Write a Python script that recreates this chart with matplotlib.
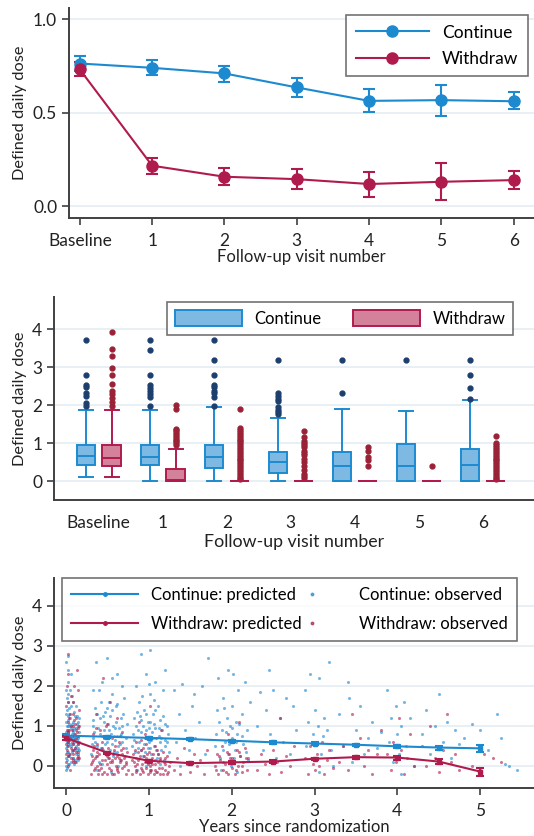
import numpy as np
import matplotlib
matplotlib.use("Agg")
import matplotlib.pyplot as plt
from matplotlib.patches import Patch
from matplotlib.lines import Line2D
from matplotlib.legend_handler import HandlerLine2D

plt.rcParams['font.family'] = ['Lato', 'DejaVu Sans']

BLUE = '#1d8ad0'
RED = '#b01b4e'
BLUE_FACE = '#7db9e2'
RED_FACE = '#d4819b'
BLUE_OUT = '#1d3f6e'
RED_OUT = '#9a2236'
SPINE = '#404040'
GRID = '#e4eef3'

# ---- panel 1: mean DDD by visit ----
visits = ['Baseline', '1', '2', '3', '4', '5', '6']
cont_mean = [0.763, 0.740, 0.710, 0.635, 0.563, 0.567, 0.561]
cont_lo = [0.724, 0.700, 0.665, 0.586, 0.504, 0.483, 0.517]
cont_hi = [0.804, 0.780, 0.750, 0.685, 0.624, 0.650, 0.608]
wd_mean = [0.731, 0.216, 0.157, 0.144, 0.118, 0.130, 0.139]
wd_lo = [0.695, 0.173, 0.112, 0.093, 0.050, 0.032, 0.091]
wd_hi = [0.770, 0.258, 0.205, 0.198, 0.184, 0.228, 0.189]

# ---- panel 2: box plot stats per visit (med, q1, q3, whislo, whishi, fliers) ----
cont_box = [
    (0.67, 0.43, 0.97, 0.11, 1.89, [1.98, 2.07, 2.25, 2.32, 2.47, 2.53, 2.81, 3.73]),
    (0.63, 0.43, 0.97, 0.0, 1.89, [1.98, 2.23, 2.30, 2.37, 2.46, 2.53, 2.81, 3.46, 3.73]),
    (0.63, 0.34, 0.97, 0.0, 1.95, [1.98, 2.23, 2.32, 2.39, 2.47, 2.53, 2.81, 3.20, 3.73]),
    (0.50, 0.22, 0.78, 0.0, 1.68, [1.77, 1.83, 1.88, 1.95, 2.11, 2.18, 2.25, 2.32, 3.19]),
    (0.40, 0.0, 0.78, 0.0, 1.91, [2.33, 3.19]),
    (0.40, 0.0, 0.98, 0.0, 1.86, [3.19]),
    (0.44, 0.0, 0.84, 0.0, 2.14, [2.18, 2.46, 2.80, 3.19]),
]
wd_box = [
    (0.62, 0.41, 0.97, 0.11, 1.89, [1.98, 2.08, 2.20, 2.30, 2.39, 2.57, 2.81, 2.97, 3.31, 3.47, 3.93]),
    (0.03, 0.0, 0.32, 0.0, 0.84, [0.95, 1.0, 1.05, 1.1, 1.15, 1.2, 1.25, 1.3, 1.35, 1.39, 1.90, 2.0]),
    (0.0, 0.0, 0.0, 0.0, 0.0, [0.05, 0.1, 0.15, 0.2, 0.25, 0.3, 0.35, 0.4, 0.45, 0.5, 0.55, 0.6, 0.65,
                               0.7, 0.75, 0.8, 0.85, 0.9, 0.95, 1.0, 1.05, 1.1, 1.15, 1.2, 1.25, 1.3,
                               1.35, 1.4, 1.9]),
    (0.0, 0.0, 0.0, 0.0, 0.0, [0.1, 0.15, 0.2, 0.3, 0.4, 0.5, 0.6, 0.7, 0.75, 0.8, 0.9, 0.95, 1.0,
                               1.07, 1.18, 1.33]),
    (0.0, 0.0, 0.0, 0.0, 0.0, [0.40, 0.56, 0.65, 0.81, 0.91]),
    (0.0, 0.0, 0.0, 0.0, 0.0, [0.40]),
    (0.0, 0.0, 0.0, 0.0, 0.0, [0.05, 0.1, 0.15, 0.2, 0.25, 0.3, 0.35, 0.4, 0.45, 0.5, 0.55, 0.6, 0.65,
                               0.7, 0.75, 0.8, 0.85, 0.9, 0.95, 1.0, 1.19]),
]

# ---- panel 3: predicted trajectories + observed points ----
years = [0.0, 0.5, 1.0, 1.5, 2.0, 2.5, 3.0, 3.5, 4.0, 4.5, 5.0]
cont_pred = [0.756, 0.73, 0.70, 0.67, 0.63, 0.59, 0.56, 0.53, 0.49, 0.46, 0.44]
cont_pred_err = [0.03, 0.03, 0.03, 0.03, 0.03, 0.03, 0.03, 0.03, 0.04, 0.05, 0.08]
wd_pred = [0.70, 0.33, 0.13, 0.07, 0.09, 0.11, 0.18, 0.22, 0.21, 0.11, -0.14]
wd_pred_err = [0.04, 0.03, 0.03, 0.03, 0.03, 0.03, 0.03, 0.04, 0.05, 0.06, 0.10]

cont_obs = [
    (0.00, 0.2), (0.01, 0.5), (0.02, 0.9), (0.00, 1.3), (0.01, 1.7), (0.02, 2.1), (0.00, 2.6), (0.03, 2.75),
    (0.01, -0.05), (0.02, 0.05), (0.03, 0.35), (0.04, 0.65), (0.05, 1.0), (0.03, 1.15), (0.04, 1.45),
    (0.05, 1.9), (0.06, 2.3), (0.07, 0.8), (0.08, 0.4), (0.09, 1.1), (0.10, 0.6), (0.11, 0.15), (0.12, 0.95),
    (0.13, 1.25), (0.14, 0.3), (0.15, 0.7), (0.06, 0.1), (0.08, 1.6), (0.10, 1.35), (0.12, 0.5), (0.14, 1.0),
    (0.02, 0.75), (0.04, 0.25), (0.07, 1.75), (0.09, 0.85), (0.11, 0.45), (0.13, 0.65), (0.15, 0.2),
    (0.01, 1.0), (0.05, 0.55), (0.00, 0.85), (0.03, 1.6), (0.06, 0.95), (0.16, 1.2), (0.16, 0.4),
    (0.00, 0.45), (0.01, 0.15), (0.02, 1.25), (0.03, 0.85), (0.04, 0.05), (0.05, 0.75), (0.06, 1.5),
    (0.07, 0.35), (0.08, 0.7), (0.09, 0.2), (0.10, 0.95), (0.11, 1.25), (0.12, 0.1), (0.13, 0.4),
    (0.14, 0.75), (0.15, 1.1), (0.00, 1.9), (0.02, 2.4), (0.01, 0.6), (0.04, 1.05), (0.06, 0.5),
    (0.08, 0.9), (0.10, 0.05), (0.12, 1.5), (0.14, 0.55),
    (0.00, 0.0), (0.00, 0.65), (0.00, 1.1), (0.01, 0.35), (0.01, 1.4), (0.02, 0.55), (0.02, 0.25),
    (0.03, 1.0), (0.03, 0.6), (0.04, 1.3), (0.05, 0.3), (0.05, 1.2), (0.06, 0.7), (0.07, 1.05),
    (0.08, 0.2), (0.09, 0.55), (0.10, 0.8), (0.11, 0.7), (0.12, 0.3), (0.13, 1.05), (0.14, 0.15),
    (0.15, 0.45), (0.16, 0.85), (0.00, -0.1), (0.02, 1.8),
    (0.30, 0.3), (0.32, 1.0), (0.33, 1.9), (0.35, 0.6), (0.36, 2.6), (0.38, 1.3), (0.40, 0.1), (0.41, 0.8),
    (0.42, 1.6), (0.44, 2.1), (0.45, 0.4), (0.46, 1.1), (0.48, 0.7), (0.49, 1.45), (0.50, 2.7), (0.51, 0.2),
    (0.52, 0.9), (0.53, 1.25), (0.55, 0.55), (0.56, 1.8), (0.57, 1.0), (0.58, 0.35), (0.60, 1.5),
    (0.61, 0.75), (0.62, 2.3), (0.64, 0.95), (0.65, 0.15), (0.66, 1.2), (0.68, 0.6), (0.70, 1.7),
    (0.72, 0.45), (0.74, 1.05), (0.37, -0.1), (0.43, 0.05), (0.54, -0.15), (0.63, 0.0), (0.47, 1.35),
    (0.59, 0.65), (0.34, 0.85), (0.67, 2.0),
    (0.31, 0.55), (0.33, 1.15), (0.36, 0.25), (0.39, 0.95), (0.42, 0.45), (0.45, 1.25), (0.48, 0.3),
    (0.51, 1.05), (0.54, 0.8), (0.57, 0.25), (0.60, 1.1), (0.63, 0.5), (0.66, 0.8), (0.69, 1.3),
    (0.72, 0.7), (0.40, 1.9), (0.55, 2.2), (0.35, 1.45), (0.50, 0.6), (0.62, 1.55),
    (0.32, 0.7), (0.38, 0.5), (0.41, 1.2), (0.44, 0.75), (0.47, 0.55), (0.53, 0.4), (0.56, 1.4),
    (0.59, 0.95), (0.61, 0.35), (0.65, 0.55), (0.68, 1.0), (0.71, 0.25), (0.46, 0.9), (0.52, 1.6),
    (0.58, 0.75),
    (0.80, 0.5), (0.82, 1.2), (0.84, 2.0), (0.85, 0.2), (0.87, 0.9), (0.88, 1.6), (0.90, 2.8), (0.91, 0.4),
    (0.93, 1.0), (0.94, 1.4), (0.95, 0.7), (0.96, 2.3), (0.98, 0.1), (0.99, 1.1), (1.00, 0.6), (1.01, 1.8),
    (1.02, 2.9), (1.03, 0.3), (1.04, 0.85), (1.05, 1.3), (1.06, 0.5), (1.07, 2.1), (1.08, 0.95),
    (1.10, 0.2), (1.11, 1.5), (1.12, 0.75), (1.14, 1.15), (1.15, 0.4), (1.17, 1.9), (1.19, 0.65),
    (1.20, 2.4), (1.22, 1.0), (1.24, 0.35), (0.86, -0.1), (0.97, 0.0), (1.09, -0.15), (1.13, 0.05),
    (0.89, 1.25), (1.01, 0.45), (1.16, 0.9),
    (0.81, 0.8), (0.83, 0.35), (0.86, 1.35), (0.88, 0.6), (0.91, 1.15), (0.93, 0.25), (0.96, 0.9),
    (0.99, 0.45), (1.02, 1.1), (1.05, 0.7), (1.08, 1.4), (1.11, 0.3), (1.14, 0.6), (1.17, 1.25),
    (1.20, 0.5), (1.23, 0.8), (0.92, 1.75), (1.06, 1.65), (1.18, 0.15), (1.00, 2.05),
    (0.82, 0.65), (0.85, 1.0), (0.87, 0.45), (0.90, 0.85), (0.94, 0.55), (0.97, 1.3), (1.00, 0.95),
    (1.03, 0.65), (1.06, 1.05), (1.09, 0.4), (1.12, 0.95), (1.15, 0.7), (1.19, 1.05), (1.22, 0.6),
    (0.95, 0.35),
    (1.30, 1.9), (1.33, 0.6), (1.36, 1.3), (1.40, 2.05), (1.44, 0.9), (1.48, 0.4), (1.52, 1.5),
    (1.56, 0.7), (1.60, 1.1), (1.64, 2.0), (1.68, 0.3), (1.72, 2.7), (1.38, 0.0), (1.55, 1.8),
    (1.80, 0.5), (1.82, 1.4), (1.84, 2.2), (1.86, 0.2), (1.88, 0.9), (1.90, 1.7), (1.92, 0.6), (1.94, 1.2),
    (1.95, 2.4), (1.96, 0.3), (1.98, 1.0), (2.00, 0.7), (2.01, 1.5), (2.02, 2.3), (2.04, 0.4), (2.05, 1.1),
    (2.06, 0.8), (2.08, 1.9), (2.10, 0.25), (2.12, 1.3), (2.14, 0.55), (2.16, 2.1), (2.18, 0.9),
    (2.20, 0.15), (1.87, -0.1), (1.99, 0.0), (2.07, -0.15), (2.22, 1.6),
    (1.81, 0.8), (1.85, 1.1), (1.89, 0.4), (1.93, 0.85), (1.97, 0.55), (2.01, 0.95), (2.05, 0.6),
    (2.09, 1.05), (2.13, 0.75), (2.17, 0.35), (1.91, 1.45), (2.03, 0.2),
    (2.30, 1.0), (2.34, 1.85), (2.38, 0.4), (2.42, 1.4), (2.46, 0.8), (2.50, 1.9), (2.54, 0.2),
    (2.58, 1.2), (2.62, 0.6), (2.66, 1.7), (2.70, 0.3), (2.74, 1.5), (2.78, 0.9), (2.45, 2.4),
    (2.88, 1.9), (2.90, 0.5), (2.92, 1.1), (2.94, 2.3), (2.96, 0.2), (2.98, 0.8), (3.00, 1.4), (3.02, 0.6),
    (3.04, 1.0), (3.06, 2.2), (3.08, 0.3), (3.10, 0.75), (3.12, 1.2), (3.15, 0.9), (3.18, 2.6),
    (3.20, 0.4), (3.05, -0.15), (3.22, 0.0),
    (3.30, 1.3), (3.35, 0.5), (3.40, 2.1), (3.45, 0.1), (3.50, 0.9), (3.55, 1.5), (3.60, 0.3),
    (3.65, 0.7), (3.70, 1.1), (3.75, 0.45), (3.80, 0.85), (3.42, 1.7),
    (3.88, 1.9), (3.90, 0.6), (3.92, 1.2), (3.95, 0.1), (3.98, 1.5), (4.00, 0.8), (4.02, 0.3),
    (4.05, 1.0), (4.08, 1.6), (4.10, 0.5), (4.15, 1.2), (4.20, 0.0), (4.05, -0.2),
    (4.30, 0.8), (4.35, 1.4), (4.40, 0.3), (4.45, 1.0), (4.50, 1.8), (4.55, 0.6), (4.60, 1.1),
    (4.65, 0.2), (4.70, 0.9), (4.75, 0.55), (4.80, 0.7),
    (4.90, 1.05), (5.00, 0.9), (5.10, 0.4), (5.20, 1.3), (5.25, 0.7), (5.35, 0.0), (5.45, -0.1), (5.30, 0.05),
]

wd_obs = [
    (0.00, 0.3), (0.01, 0.7), (0.02, 1.1), (0.00, 1.5), (0.01, 2.0), (0.02, 2.8), (0.03, 0.5), (0.04, 0.9),
    (0.05, 1.3), (0.06, 0.2), (0.07, 0.6), (0.08, 1.0), (0.09, 1.6), (0.10, 0.4), (0.11, 0.8), (0.12, 1.2),
    (0.13, 2.4), (0.14, 0.55), (0.15, 0.95), (0.16, 1.4), (0.03, 0.0), (0.05, -0.1), (0.08, 0.15),
    (0.10, 2.0), (0.12, 0.7), (0.14, 1.9), (0.02, 2.3), (0.06, 1.75), (0.09, 0.3), (0.11, 1.05),
    (0.13, 0.85), (0.04, 1.2), (0.16, 0.6),
    (0.00, 0.55), (0.01, 0.9), (0.03, 0.25), (0.04, 0.65), (0.06, 1.0), (0.07, 0.4), (0.09, 0.75),
    (0.10, 1.15), (0.12, 0.35), (0.13, 0.6), (0.15, 0.25), (0.16, 1.0), (0.02, 1.6), (0.08, 1.3), (0.11, 0.1),
    (0.00, 0.1), (0.00, 0.8), (0.01, 0.4), (0.02, 0.6), (0.03, 0.85), (0.04, 0.3), (0.05, 0.7),
    (0.06, 0.45), (0.07, 0.9), (0.08, 0.55), (0.09, 0.1), (0.10, 0.65), (0.11, 0.45), (0.12, 0.9),
    (0.13, 0.2), (0.14, 0.35), (0.15, 0.75), (0.16, 0.2),
    (0.30, -0.2), (0.31, 0.1), (0.32, 0.4), (0.33, 0.8), (0.34, -0.1), (0.35, 0.2), (0.36, 1.3),
    (0.37, 0.0), (0.38, 0.55), (0.39, -0.2), (0.40, 0.3), (0.41, 0.9), (0.42, -0.05), (0.43, 0.15),
    (0.44, 0.6), (0.45, 2.2), (0.46, -0.15), (0.47, 0.35), (0.48, 1.0), (0.49, 0.05), (0.50, -0.2),
    (0.51, 0.45), (0.52, 0.2), (0.53, 1.6), (0.54, -0.1), (0.55, 0.7), (0.56, 0.1), (0.57, 0.3),
    (0.58, -0.2), (0.59, 0.5), (0.60, 0.0), (0.61, 1.2), (0.62, 0.25), (0.63, -0.15), (0.64, 0.6),
    (0.65, 0.1), (0.66, 0.4), (0.67, -0.05), (0.68, 0.85), (0.70, 0.2), (0.72, -0.2), (0.74, 0.35),
    (0.31, 0.25), (0.34, 0.5), (0.37, 0.35), (0.40, -0.1), (0.43, 0.45), (0.46, 0.7), (0.49, 0.25),
    (0.52, -0.05), (0.55, 0.15), (0.58, 0.4), (0.61, -0.1), (0.64, 0.2), (0.67, 0.3), (0.70, 0.0),
    (0.73, 0.1), (0.36, 0.95), (0.50, 1.05), (0.65, 0.75),
    (0.30, 0.05), (0.33, 0.15), (0.35, -0.05), (0.38, 0.25), (0.41, 0.05), (0.44, -0.2), (0.47, 0.15),
    (0.50, 0.35), (0.53, 0.1), (0.56, -0.2), (0.59, 0.2), (0.62, -0.05), (0.66, 0.15), (0.69, 0.45),
    (0.72, 0.05), (0.75, -0.1),
    (0.80, -0.2), (0.81, 0.3), (0.83, 0.0), (0.84, 0.6), (0.85, -0.1), (0.87, 0.15), (0.88, 1.1),
    (0.89, -0.2), (0.90, 0.4), (0.92, 0.05), (0.93, -0.15), (0.94, 0.25), (0.95, 0.8), (0.96, -0.05),
    (0.98, 0.1), (0.99, -0.2), (1.00, 0.35), (1.01, 0.0), (1.02, 1.5), (1.03, -0.1), (1.04, 0.2),
    (1.06, -0.2), (1.07, 0.5), (1.08, 0.05), (1.10, -0.15), (1.11, 0.3), (1.12, -0.05), (1.14, 0.15),
    (1.15, 0.9), (1.17, -0.2), (1.18, 0.1), (1.20, -0.1), (1.22, 0.25), (1.24, 0.0), (0.97, 0.55),
    (0.82, 0.1), (0.84, -0.15), (0.87, 0.35), (0.90, -0.05), (0.93, 0.45), (0.96, 0.2), (0.99, 0.05),
    (1.02, -0.15), (1.05, 0.3), (1.08, -0.1), (1.11, 0.1), (1.14, -0.2), (1.17, 0.35), (1.20, 0.05),
    (1.23, -0.15), (0.91, 0.65), (1.09, 0.7),
    (0.80, 0.15), (0.83, 0.4), (0.86, 0.05), (0.89, 0.25), (0.92, -0.1), (0.95, 0.1), (0.98, 0.3),
    (1.01, -0.1), (1.04, 0.05), (1.07, 0.15), (1.10, 0.4), (1.13, 0.2), (1.16, -0.05), (1.19, 0.2),
    (1.22, -0.2), (1.25, 0.1),
    (1.30, -0.1), (1.34, 0.2), (1.38, -0.2), (1.42, 0.45), (1.46, 0.05), (1.50, -0.15), (1.54, 0.3),
    (1.58, 0.0), (1.62, 0.15), (1.66, -0.2), (1.70, 0.4), (1.48, 0.7),
    (1.80, 0.0), (1.82, 0.3), (1.84, -0.2), (1.86, 0.15), (1.88, 0.5), (1.90, -0.1), (1.92, 0.05),
    (1.94, 0.35), (1.96, -0.2), (1.98, 0.2), (2.00, 0.6), (2.01, -0.05), (2.02, 0.1), (2.04, -0.2),
    (2.06, 0.4), (2.08, 0.0), (2.10, 0.25), (2.12, -0.15), (2.14, 0.1), (2.16, 0.45), (2.18, -0.1),
    (2.20, 0.2), (1.95, 0.8), (2.09, 1.1),
    (1.81, -0.1), (1.85, 0.25), (1.89, 0.1), (1.93, -0.15), (1.97, 0.3), (2.01, 0.2), (2.05, -0.1),
    (2.09, 0.35), (2.13, 0.0), (2.17, 0.2),
    (2.30, -0.1), (2.35, 0.3), (2.40, 0.05), (2.45, -0.2), (2.50, 0.4), (2.55, 0.1), (2.60, -0.15),
    (2.65, 0.25), (2.70, 0.0), (2.75, 0.5), (2.58, 1.2),
    (2.88, 0.2), (2.92, -0.2), (2.95, 0.5), (2.98, 0.05), (3.00, -0.1), (3.03, 0.3), (3.06, 0.0),
    (3.09, 0.6), (3.12, -0.2), (3.15, 0.15), (3.18, 0.4), (3.22, -0.05),
    (3.30, 0.1), (3.35, 0.5), (3.40, -0.1), (3.45, 1.3), (3.50, 0.2), (3.55, 0.7), (3.60, 0.0),
    (3.65, 0.4), (3.70, -0.2), (3.75, 0.3), (3.80, 0.9),
    (3.88, 0.3), (3.92, -0.1), (3.95, 0.6), (3.98, 0.1), (4.02, 1.2), (4.05, 0.4), (4.08, -0.2),
    (4.12, 0.2), (4.15, 0.8), (4.20, 0.0),
    (4.30, 0.5), (4.35, 0.0), (4.40, 1.0), (4.45, 0.2), (4.50, -0.15), (4.55, 0.4), (4.60, 1.3),
    (4.65, 0.1), (4.70, 0.3), (4.75, -0.1),
    (4.90, 0.0), (5.00, -0.1), (5.05, 0.3), (5.15, 0.2), (5.25, 0.1),
]


class HandlerDotRight(HandlerLine2D):
    # legend handle with the single marker placed at the right end, next to the text
    def get_xdata(self, legend, xdescent, ydescent, width, height, fontsize):
        xdata, _ = super().get_xdata(legend, xdescent, ydescent, width, height, fontsize)
        return xdata, [-xdescent + width - 0.2 * fontsize]


def style_axes(ax, label_size=12):
    for s in ['top', 'right']:
        ax.spines[s].set_visible(False)
    for s in ['left', 'bottom']:
        ax.spines[s].set_color(SPINE)
        ax.spines[s].set_linewidth(1.4)
    ax.tick_params(axis='both', direction='out', length=5, width=1.2, color=SPINE,
                   labelsize=12.5, labelcolor='#222222')
    ax.tick_params(axis='x', pad=6)
    ax.yaxis.grid(True, color=GRID, linewidth=1.2)
    ax.set_axisbelow(True)
    ax.set_ylabel('Defined daily dose', fontsize=11.8, color='#222222')


def frame(leg):
    leg.get_frame().set_linewidth(1.2)
    leg.get_frame().set_edgecolor('#505050')


fig = plt.figure(figsize=(5.34, 8.36), dpi=100)

# ---------------- panel 1 ----------------
ax1 = fig.add_axes([69 / 534, 0.7392, 465 / 534, 0.2512])
x = np.arange(len(visits))
for mean, lo, hi, col, lab in [(cont_mean, cont_lo, cont_hi, BLUE, 'Continue'),
                               (wd_mean, wd_lo, wd_hi, RED, 'Withdraw')]:
    mean = np.array(mean)
    err = [mean - np.array(lo), np.array(hi) - mean]
    ax1.errorbar(x, mean, yerr=err, color=col, marker='o', markersize=8, linewidth=1.5,
                 capsize=4, capthick=1.5, elinewidth=1.5, label=lab)
ax1.set_xticks(x)
ax1.set_xticklabels(visits)
ax1.set_yticks([0.0, 0.5, 1.0])
ax1.set_yticklabels(['0.0', '0.5', '1.0'])
ax1.set_xlim(-0.15, 6.28)
ax1.set_ylim(-0.064, 1.06)
style_axes(ax1)
ax1.set_xlabel('Follow-up visit number', fontsize=12, labelpad=0, color='#222222')
h1 = [Line2D([], [], color=BLUE, marker='o', markersize=8, linewidth=1.5),
      Line2D([], [], color=RED, marker='o', markersize=8, linewidth=1.5)]
frame(ax1.legend(h1, ['Continue', 'Withdraw'], loc='upper left', bbox_to_anchor=(0.596, 0.967),
                 borderaxespad=0, fontsize=12.5, frameon=True, fancybox=False, handlelength=4.2,
                 borderpad=0.55, labelspacing=0.6, handletextpad=0.75))

# ---------------- panel 2 ----------------
ax2 = fig.add_axes([54 / 534, 0.4019, 480 / 534, 0.2428])
off = 0.2
width = 0.29


def to_stats(rows):
    return [dict(med=r[0], q1=r[1], q3=r[2], whislo=r[3], whishi=r[4], fliers=r[5]) for r in rows]


for rows, shift, edge, face, out in [(cont_box, -off, BLUE, BLUE_FACE, BLUE_OUT),
                                     (wd_box, off, RED, RED_FACE, RED_OUT)]:
    ax2.bxp(to_stats(rows), positions=x + shift, widths=width, patch_artist=True,
            boxprops=dict(facecolor=face, edgecolor=edge, linewidth=1.4),
            medianprops=dict(color=edge, linewidth=1.4),
            whiskerprops=dict(color=edge, linewidth=1.4),
            capprops=dict(color=edge, linewidth=1.4), capwidths=width * 0.75,
            flierprops=dict(marker='o', markersize=3.5, markerfacecolor=out, markeredgecolor=out))
ax2.set_xticks(x)
ax2.set_xticklabels(visits)
ax2.set_yticks([0, 1, 2, 3, 4])
ax2.set_xlim(-0.70, 6.80)
ax2.set_ylim(-0.49, 4.85)
style_axes(ax2)
ax2.tick_params(axis='x', length=0, pad=11)
ax2.set_xlabel('Follow-up visit number', fontsize=12.8, labelpad=2, color='#222222')
h2 = [Patch(facecolor=BLUE_FACE, edgecolor=BLUE, linewidth=1.4),
      Patch(facecolor=RED_FACE, edgecolor=RED, linewidth=1.4)]
frame(ax2.legend(h2, ['Continue', 'Withdraw'], loc='upper left', bbox_to_anchor=(0.235, 0.975),
                 borderaxespad=0, ncol=2, fontsize=12, frameon=True, fancybox=False, handlelength=4.0,
                 handleheight=1.1, borderpad=0.5, columnspacing=1.9, handletextpad=0.75))

# ---------------- panel 3 ----------------
ax3 = fig.add_axes([54 / 534, 0.0574, 480 / 534, 0.2512])
cx, cy = np.array(cont_obs).T
wx, wy = np.array(wd_obs).T
ax3.scatter(cx, cy, s=5, color=BLUE, alpha=0.6, linewidths=0, zorder=2)
ax3.scatter(wx, wy, s=5, color=RED, alpha=0.6, linewidths=0, zorder=2)
ax3.errorbar(years, cont_pred, yerr=cont_pred_err, color=BLUE, marker='s', markersize=3,
             linewidth=1.5, capsize=3, elinewidth=1.5, capthick=1.5, zorder=3)
ax3.errorbar(years, wd_pred, yerr=wd_pred_err, color=RED, marker='s', markersize=3,
             linewidth=1.5, capsize=3, elinewidth=1.5, capthick=1.5, zorder=3)
ax3.set_xticks([0, 1, 2, 3, 4, 5])
ax3.set_yticks([0, 1, 2, 3, 4])
ax3.set_xlim(-0.145, 5.65)
ax3.set_ylim(-0.55, 4.69)
style_axes(ax3)
ax3.set_xlabel('Years since randomization', fontsize=12, labelpad=0, color='#222222')
obs_c = Line2D([], [], color=BLUE, marker='o', markersize=1.8, linewidth=0, alpha=0.7)
obs_w = Line2D([], [], color=RED, marker='o', markersize=1.8, linewidth=0, alpha=0.7)
h3 = [Line2D([], [], color=BLUE, marker='o', markersize=2.5, linewidth=1.5),
      Line2D([], [], color=RED, marker='o', markersize=2.5, linewidth=1.5),
      obs_c, obs_w]
frame(ax3.legend(h3, ['Continue: predicted', 'Withdraw: predicted', 'Continue: observed',
                      'Withdraw: observed'],
                 loc='upper left', bbox_to_anchor=(0.017, 1.0), borderaxespad=0, ncol=2, fontsize=12,
                 frameon=True, fancybox=False, handlelength=4.0, borderpad=0.55, labelspacing=0.75,
                 columnspacing=-1.4, handletextpad=0.8,
                 handler_map={obs_c: HandlerDotRight(), obs_w: HandlerDotRight()}))

fig.savefig('out.png', dpi=100)
